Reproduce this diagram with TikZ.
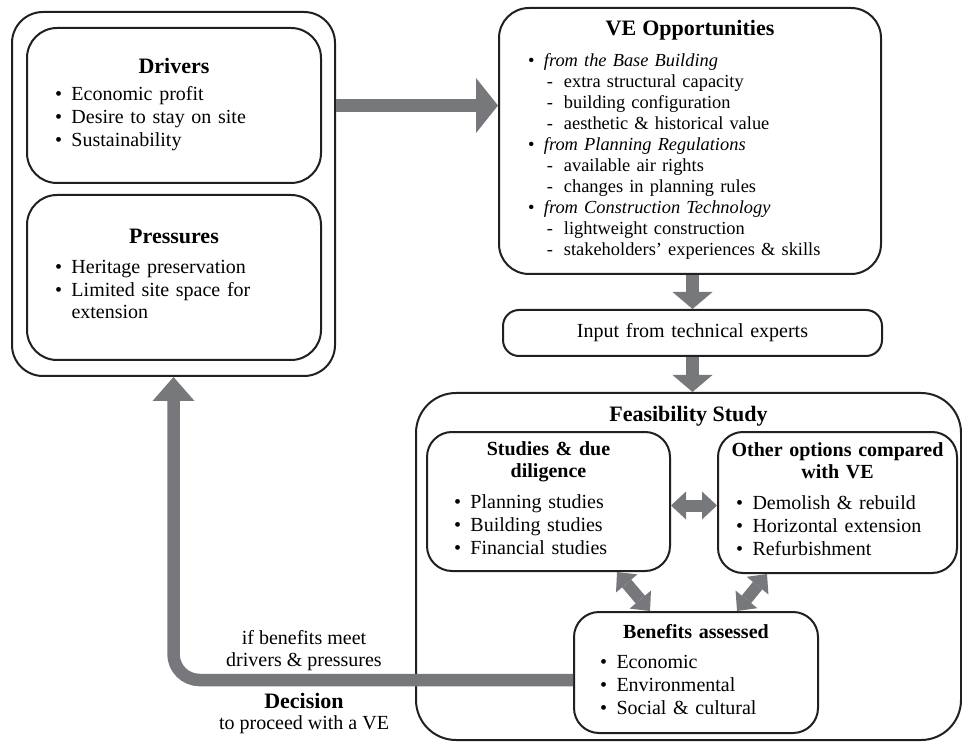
\documentclass[tikz,border=0pt]{standalone}
\usepackage{fontspec}
\setmainfont{Liberation Serif}
\usepackage{xcolor}
\usetikzlibrary{arrows.meta,positioning}
\setlength{\parindent}{0pt}
\definecolor{flowgray}{RGB}{119,120,124}
\definecolor{boxline}{RGB}{35,31,32}
\newcommand{\boxhead}[1]{{\centering\fontsize{11}{13}\selectfont\bfseries #1\par}}
\newcommand{\subhead}[1]{{\centering\fontsize{10}{11}\selectfont\bfseries #1\par}}
\newcommand{\blist}[2]{\hspace*{#1}\begin{tabular}[t]{@{}l@{\hspace{4.75pt}}l@{}}#2\end{tabular}}
\newcommand{\dashitem}{\makebox[10pt][l]{\hspace{1.5pt}-}}

\begin{document}
\begin{tikzpicture}[x=0.5pt, y=-0.5pt,
		box/.style={draw=boxline, line width=1pt, fill=white, rounded corners=12.5pt, align=left, inner sep=0pt, font=\fontsize{10}{11.4}\selectfont},
		bigflow/.style={draw=flowgray, line width=6.5pt, -{Triangle[width=27.5pt,length=11pt,line width=0pt]}},
		downflow/.style={draw=flowgray, line width=6.5pt, -{Triangle[width=20pt,length=8.5pt,line width=0pt]}},
		backflow/.style={draw=flowgray, line width=6.25pt, rounded corners=13pt, -{Triangle[width=21pt,length=12pt,line width=0pt]}},
		twoway/.style={draw=flowgray, line width=6pt, {Triangle[width=14pt,length=7.5pt,line width=0pt]}-{Triangle[width=14pt,length=7.5pt,line width=0pt]}}]
		\useasboundingbox (0,0) rectangle (962,742);

		\node[box, rounded corners=15.5pt, text width=161.5pt, minimum height=182pt] (frame) at (173.5,194) {};
		\node[box, rounded corners=15pt, text width=147pt, minimum height=77.5pt] (drivers) at (174,105.5) {\boxhead{Drivers}\vspace{2.5pt}\blist{14pt}{\textbullet & Economic profit\\ \textbullet & Desire to stay on site\\ \textbullet & Sustainability}};
		\node[box, rounded corners=15pt, text width=147pt, minimum height=82.5pt] (pressures) at (174,277.5) {\boxhead{Pressures}\vspace{3.5pt}\blist{14pt}{\textbullet & Heritage preservation\\ \textbullet & Limited site space for\\ & extension}};

		\node[box, rounded corners=15pt, text width=191pt, minimum height=133pt, font=\fontsize{9.2}{10.5}\selectfont] (ve) at (690,141) {\boxhead{VE Opportunities}\vspace{5pt}\blist{14.5pt}{\textbullet & \textit{from the Base Building}\\ & \dashitem extra structural capacity\\ & \dashitem building configuration\\ & \dashitem aesthetic \& historical value\\ \textbullet & \textit{from Planning Regulations}\\ & \dashitem available air rights\\ & \dashitem changes in planning rules\\ \textbullet & \textit{from Construction Technology}\\ & \dashitem lightweight construction\\ & \dashitem stakeholders’ experiences \& skills}};
		\node[box, rounded corners=8pt, text width=189.5pt, minimum height=23pt, align=center] (input) at (692.5,333) {Input from technical experts};

		\node[box, rounded corners=20pt, text width=272.5pt, minimum height=173.5pt] (feas) at (688.5,566.5) {};
		\node[font=\fontsize{11}{13}\selectfont\bfseries, inner sep=0pt, below=7pt of feas.north] (feastitle) {Feasibility Study};
		\node[box, text width=121.5pt, minimum height=69.5pt] (studies) at (548.5,501.5) {\subhead{Studies \& due\\diligence}\vspace{4pt}\blist{13.5pt}{\textbullet & Planning studies\\ \textbullet & Building studies\\ \textbullet & Financial studies}};
		\node[box, text width=119.5pt, minimum height=70.5pt] (other) at (837.5,502.5) {\subhead{Other options compared\\with VE}\vspace{4pt}\blist{9pt}{\textbullet & Demolish \& rebuild\\ \textbullet & Horizontal extension\\ \textbullet & Refurbishment}};
		\node[box, text width=122pt, minimum height=60.5pt] (benefits) at (696,672.5) {\subhead{Benefits assessed}\vspace{3.75pt}\blist{13pt}{\textbullet & Economic\\ \textbullet & Environmental\\ \textbullet & Social \& cultural}};

		\draw[bigflow] (frame.east |- drivers) -- (ve.west |- drivers);
		\draw[downflow] (input.north |- ve.south) -- (input.north);
		\draw[downflow] (input.south) -- (input.south |- feas.north);
		\draw[twoway] ([yshift=-2pt]studies.east) -- ([yshift=-2pt]studies.east -| other.west);
		\draw[twoway] ([xshift=34.25pt]studies.south) -- ([xshift=-23pt]benefits.north);
		\draw[twoway] ([xshift=-35.25pt]other.south) -- ([xshift=20.5pt]benefits.north);
		\draw[backflow] ([yshift=-3.75pt]benefits.west) -| (frame.south);

		\node[align=center, font=\fontsize{10}{11}\selectfont] (condition) at (304,651) {if benefits meet\\drivers \& pressures};
		\node[align=center, font=\fontsize{10}{10.5}\selectfont] (decision) at (304,713) {{\fontsize{11}{12}\selectfont\bfseries Decision}\\to proceed with a VE};
\end{tikzpicture}
\end{document}
